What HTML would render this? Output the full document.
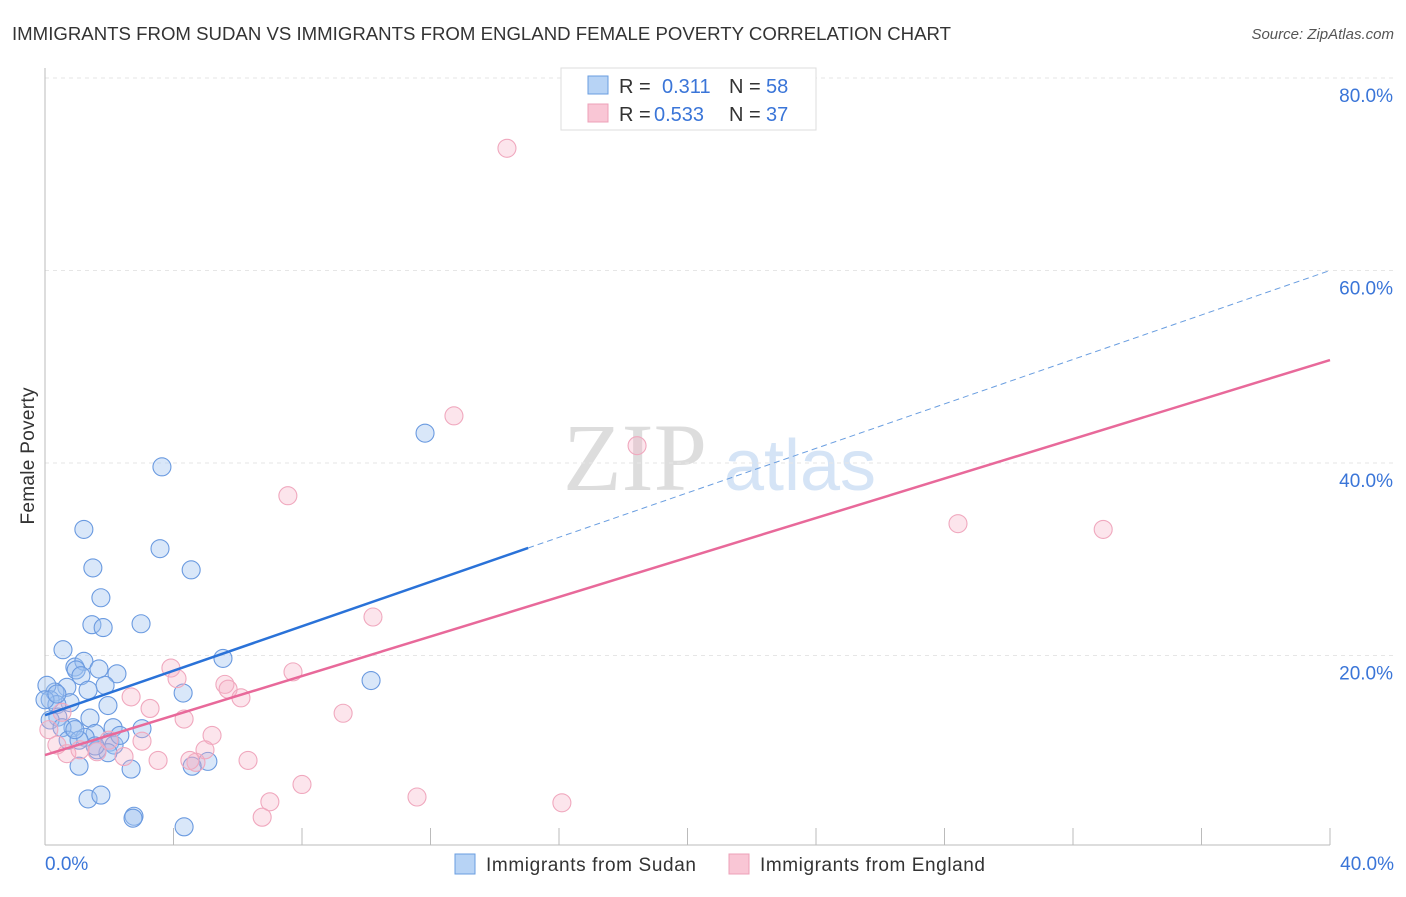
<!DOCTYPE html>
<html><head><meta charset="utf-8"><style>
body{margin:0;background:#fff;font-family:"Liberation Sans",sans-serif;}
</style></head><body>
<svg width="1406" height="892" xmlns="http://www.w3.org/2000/svg" font-family="Liberation Sans, sans-serif">
<text x="12" y="40" font-size="18" fill="#333" textLength="939" lengthAdjust="spacingAndGlyphs">IMMIGRANTS FROM SUDAN VS IMMIGRANTS FROM ENGLAND FEMALE POVERTY CORRELATION CHART</text>
<text x="1394" y="39" font-size="15" fill="#555" font-style="italic" text-anchor="end">Source: ZipAtlas.com</text>
<text x="635" y="490" font-size="96" fill="#ddd" font-family="Liberation Serif, serif" text-anchor="middle">ZIP</text>
<text x="800" y="490" font-size="72" fill="#d5e4f6" text-anchor="middle">atlas</text>
<g id="grid"></g>
<g id="axes"></g>
<g id="pts"></g>
<g id="lines"></g>
<text transform="translate(34,456) rotate(-90)" font-size="19" fill="#333" text-anchor="middle" textLength="137">Female Poverty</text>
<g>
<rect x="561" y="68" width="255" height="62" fill="#fff" stroke="#ddd"/>
<rect x="588" y="76" width="20" height="18" fill="#b7d3f5" stroke="#6a9ee0"/>
<text x="619" y="93" font-size="20" fill="#333">R = </text><text x="662" y="93" font-size="20" fill="#3a75d8">0.311</text>
<text x="729" y="93" font-size="20" fill="#333">N = </text><text x="766" y="93" font-size="20" fill="#3a75d8">58</text>
<rect x="588" y="104" width="20" height="18" fill="#f9c6d5" stroke="#eda0b8"/>
<text x="619" y="121" font-size="20" fill="#333">R = </text><text x="654" y="121" font-size="20" fill="#3a75d8">0.533</text>
<text x="729" y="121" font-size="20" fill="#333">N = </text><text x="766" y="121" font-size="20" fill="#3a75d8">37</text>
</g>
<g>
<rect x="455" y="854" width="20" height="20" fill="#b7d3f5" stroke="#6a9ee0"/>
<text x="486" y="871" font-size="19" fill="#333" textLength="210">Immigrants from Sudan</text>
<rect x="729" y="854" width="20" height="20" fill="#f9c6d5" stroke="#eda0b8"/>
<text x="760" y="871" font-size="19" fill="#333" textLength="225">Immigrants from England</text>
</g>
</svg>
<script>
const xTicks=[0,40];
const yTicks=[20,40,60,80];
const sudanX=[3.64,11.83,1.21,3.58,4.55,1.49,1.74,1.46,1.81,2.99,0.56,5.54,0.93,1.21,0.97,1.68,2.24,1.12,0.68,0.31,1.87,1.34,0.06,4.30,10.15,0.78,1.96,0.16,0.37,1.40,0.40,0.16,0.87,0.53,2.12,3.02,1.56,1.25,0.72,1.06,2.02,2.15,1.62,1.96,5.07,4.58,1.06,2.68,1.34,1.74,2.77,2.74,4.33,0.93,2.33,1.56,0.0,0.37];
const sudanY=[39.6,43.1,33.1,31.1,28.9,29.1,26.0,23.2,22.9,23.3,20.6,19.7,18.8,19.4,18.5,18.6,18.1,17.9,16.7,16.2,16.9,16.4,16.9,16.1,17.4,15.1,14.8,15.4,14.9,13.5,13.6,13.3,12.5,12.5,12.5,12.4,11.9,11.5,11.2,11.2,11.0,10.7,10.2,9.9,9.0,8.5,8.5,8.2,5.1,5.5,3.3,3.1,2.2,12.3,11.7,10.6,15.4,16.0];
const englandX=[14.38,12.73,18.43,7.56,28.42,32.94,10.21,3.92,7.72,4.11,5.60,5.70,6.10,2.68,3.27,4.33,9.28,5.20,3.02,1.99,0.37,0.68,1.62,1.09,2.46,4.98,3.52,6.32,4.70,8.00,7.00,6.76,11.58,16.09,4.51,0.12,0.53];
const englandY=[72.7,44.9,41.8,36.6,33.7,33.1,24.0,18.7,18.3,17.6,17.0,16.5,15.6,15.7,14.5,13.4,14.0,11.7,11.1,11.2,10.7,9.8,10.0,10.2,9.5,10.2,9.1,9.1,8.9,6.6,4.8,3.2,5.3,4.7,9.1,12.3,14.1];
const sudanTrend=[13.8,1.155,15.04];
const englandTrend=[9.66,1.026];
const NS='http://www.w3.org/2000/svg';
const sx=v=>45+v/40*1285;
const sy=v=>848-v*9.625;
function mk(tag,attrs,parent){const e=document.createElementNS(NS,tag);for(const k in attrs)e.setAttribute(k,attrs[k]);document.getElementById(parent).appendChild(e);return e;}
yTicks.forEach(t=>{
 const l=mk('line',{x1:45,x2:1394,y1:sy(t),y2:sy(t),stroke:'#e6e6e6','stroke-dasharray':'4,4'},'grid');
 
 
 const tx=mk('text',{x:1393,y:sy(t)+24,'font-size':19,fill:'#3a75d8','text-anchor':'end'},'grid');
 tx.textContent=t.toFixed(1)+'%';
 
 
});
mk('line',{x1:45,x2:45,y1:68,y2:845,stroke:'#bbb'},'axes');
mk('line',{x1:45,x2:1330,y1:845,y2:845,stroke:'#bbb'},'axes');
for(let i=0;i<=10;i++){const x=sx(i*4);mk('line',{x1:x,x2:x,y1:828,y2:845,stroke:'#bbb'},'axes');}
xTicks.forEach(t=>{
 const tx=mk('text',{x:t===0?45:1394,y:870,'font-size':19,fill:'#3a75d8','text-anchor':t===0?'start':'end'},'axes');
 tx.textContent=t.toFixed(1)+'%';
 
 
});
sudanX.forEach((x,i)=>{
 const c=mk('circle',{cx:sx(x),cy:sy(sudanY[i]),r:9,fill:'rgba(160,195,240,0.4)',stroke:'#6a9ae0','stroke-width':1.1},'pts');
 
 
});
englandX.forEach((x,i)=>{
 const c=mk('circle',{cx:sx(x),cy:sy(englandY[i]),r:9,fill:'rgba(246,175,195,0.32)',stroke:'#f0a8be','stroke-width':1.1},'pts');
 
 
});
const [b0,b1,bx]=sudanTrend;
const l1=mk('line',{x1:sx(0),y1:sy(b0),x2:sx(bx),y2:sy(b0+b1*bx),stroke:'#2a72d8','stroke-width':2.5},'lines');


const l2=mk('line',{x1:sx(bx),y1:sy(b0+b1*bx),x2:sx(40),y2:sy(b0+b1*40),stroke:'#6a9ee0','stroke-width':1,'stroke-dasharray':'6,4'},'lines');


const [p0,p1]=englandTrend;
const l3=mk('line',{x1:sx(0),y1:sy(p0),x2:sx(40),y2:sy(p0+p1*40),stroke:'#e8699a','stroke-width':2.5},'lines');


</script>
</body></html>
